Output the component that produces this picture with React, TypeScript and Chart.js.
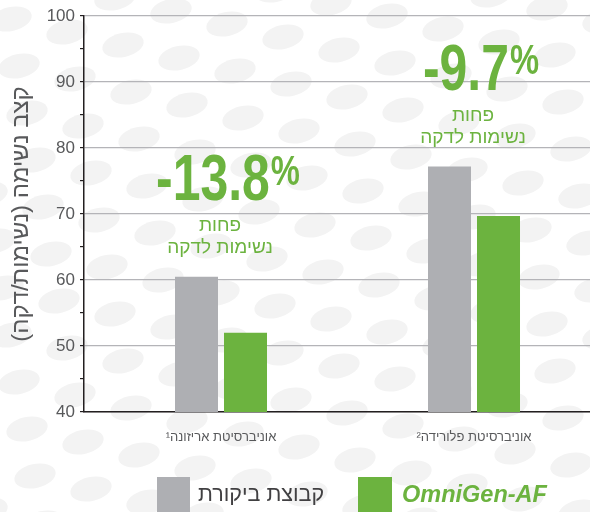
import React, { useEffect, useRef } from 'react';
import { Chart, registerables } from 'chart.js';

Chart.register(...registerables);

// ---- data ----
const categories = ['אוניברסיטת אריזונה¹', 'אוניברסיטת פלורידה²'];
const controlValues = [60.5, 77.2];
const omnigenValues = [52.0, 69.7];
const reductionLabels = ['-13.8', '-9.7'];
const reductionUnit = '%';
const reductionSubLines = ['פחות', 'נשימות לדקה'];
const seriesNames = ['קבוצת ביקורת', 'OmniGen-AF'];
const yTitle = 'קצב נשימה (נשימות/דקה)';
const yMin = 40;
const yMax = 100;
const yStep = 5;
const yLabelStep = 10;

// ---- style ----
const GREEN = '#6cb33f';
const GRAY = '#aeafb3';
const TEXT = '#58595b';
const AXIS = '#231f20';
const FONT = '"Liberation Sans", Arial, "DejaVu Sans", sans-serif';
const X_MIN = -0.5415;
const X_MAX = 1.4585;

const backgroundPlugin = {
  id: 'dotsBackground',
  beforeDraw(chart: any) {
    const { ctx, width, height } = chart;
    ctx.save();
    ctx.fillStyle = '#ffffff';
    ctx.fillRect(0, 0, width, height);
    ctx.fillStyle = '#f3f3f3';
    for (let i = -20; i < 20; i++) {
      for (let j = -20; j < 20; j++) {
        const cx = 283 + i * 56 + j * 8;
        const cy = 37 + i * 13 + j * 47;
        if (cx < -30 || cx > width + 30 || cy < -30 || cy > height + 30) continue;
        ctx.beginPath();
        ctx.ellipse(cx, cy, 21, 12, -0.22, 0, Math.PI * 2);
        ctx.fill();
      }
    }
    ctx.restore();
  },
};

const reductionPlugin = {
  id: 'reductions',
  afterDatasetsDraw(chart: any) {
    const { ctx } = chart;
    const x = chart.scales.x;
    const y = chart.scales.y;
    const SX = 0.78;
    categories.forEach((_, i) => {
      const cx = x.getPixelForValue(i);
      const topY = y.getPixelForValue(Math.max(controlValues[i], omnigenValues[i]));
      const base = topY - 76.5;
      ctx.save();
      ctx.direction = 'ltr';
      ctx.fillStyle = GREEN;
      ctx.textBaseline = 'alphabetic';
      ctx.textAlign = 'left';
      ctx.font = `bold 64px ${FONT}`;
      const numW = ctx.measureText(reductionLabels[i]).width * SX;
      ctx.font = `bold 42px ${FONT}`;
      const pctW = ctx.measureText(reductionUnit).width * SX;
      const total = numW + 1 + pctW;
      const left = cx + 7 - total / 2;
      ctx.translate(left, base);
      ctx.scale(SX, 1);
      ctx.font = `bold 64px ${FONT}`;
      ctx.fillText(reductionLabels[i], 0, 0);
      ctx.font = `bold 42px ${FONT}`;
      ctx.fillText(reductionUnit, (numW + 1) / SX, -15.5);
      ctx.restore();

      ctx.save();
      ctx.direction = 'rtl';
      ctx.textAlign = 'center';
      ctx.textBaseline = 'alphabetic';
      ctx.fillStyle = GREEN;
      ctx.font = `19px ${FONT}`;
      ctx.fillText(reductionSubLines[0], cx - 1, base + 31);
      ctx.fillText(reductionSubLines[1], cx - 1, base + 53);
      ctx.restore();
    });
  },
};

export default function App() {
  const canvasRef = useRef<HTMLCanvasElement | null>(null);

  useEffect(() => {
    if (!canvasRef.current) return;
    Chart.defaults.font.family = FONT;
    const chart = new Chart(canvasRef.current, {
      type: 'bar',
      data: {
        datasets: [
          {
            label: seriesNames[0],
            data: controlValues.map((v, i) => ({ x: i, y: v })),
            backgroundColor: GRAY,
            borderWidth: 0,
            categoryPercentage: 0.3874,
            barPercentage: 0.8776,
          },
          {
            label: seriesNames[1],
            data: omnigenValues.map((v, i) => ({ x: i, y: v })),
            backgroundColor: GREEN,
            borderWidth: 0,
            categoryPercentage: 0.3874,
            barPercentage: 0.8776,
          },
        ],
      } as any,
      options: {
        animation: false,
        responsive: false,
        devicePixelRatio: 1,
        layout: { padding: { top: 16, left: 0, right: 0, bottom: 0 } },
        plugins: {
          legend: { display: false },
          tooltip: { enabled: false },
        },
        scales: {
          x: {
            type: 'linear',
            min: X_MIN,
            max: X_MAX,
            offset: false,
            afterBuildTicks: (s: any) => {
              s.ticks = categories.map((_, i) => ({ value: i }));
            },
            afterFit: (s: any) => {
              s.height = 100;
            },
            ticks: {
              callback: (v: any) => categories[v] ?? '',
              font: { size: 13 },
              color: TEXT,
              padding: 18,
              autoSkip: false,
              maxRotation: 0,
            },
            grid: { drawOnChartArea: false, drawTicks: false, color: 'rgba(0,0,0,0)', offset: false },
            border: { color: AXIS, width: 1.5 },
          },
          y: {
            type: 'linear',
            min: yMin,
            max: yMax,
            afterFit: (s: any) => {
              s.width = 84;
            },
            ticks: {
              stepSize: yStep,
              maxTicksLimit: 30,
              autoSkip: false,
              callback: (v: any) => (v % yLabelStep === 0 ? String(v) : ''),
              font: { size: 17 },
              color: TEXT,
              padding: 5,
            },
            grid: {
              color: (c: any) => (c.tick && c.tick.value % yLabelStep === 0 ? '#b4b4b8' : 'rgba(0,0,0,0)'),
              tickColor: AXIS,
              tickLength: 4,
              lineWidth: 1.2,
            },
            border: { color: AXIS, width: 1.5 },
            title: {
              display: true,
              text: yTitle,
              color: TEXT,
              font: { size: 24 },
              padding: { top: 7, bottom: 0 },
            },
          },
        },
      } as any,
      plugins: [backgroundPlugin, reductionPlugin],
    });
    return () => chart.destroy();
  }, []);

  const legendText: React.CSSProperties = {
    position: 'absolute',
    top: 477,
    height: 34,
    lineHeight: '34px',
    fontSize: 21,
    fontFamily: FONT,
    whiteSpace: 'nowrap',
  };

  return (
    <div style={{ position: 'absolute', left: 0, top: 0, width: 590, height: 512, overflow: 'hidden', background: '#fff' }}>
      <canvas ref={canvasRef} width={590} height={512} dir="rtl" style={{ display: 'block', direction: 'rtl' }} />
      <div style={{ position: 'absolute', left: 157, top: 477, width: 33, height: 40, background: GRAY }} />
      <span dir="rtl" style={{ ...legendText, left: 198, color: '#414042', fontSize: 21.5 }}>{seriesNames[0]}</span>
      <div style={{ position: 'absolute', left: 358, top: 477, width: 34, height: 40, background: GREEN }} />
      <span style={{ ...legendText, left: 402, color: GREEN, fontWeight: 'bold', fontStyle: 'italic', fontSize: 23.5 }}>
        {seriesNames[1]}
      </span>
    </div>
  );
}
